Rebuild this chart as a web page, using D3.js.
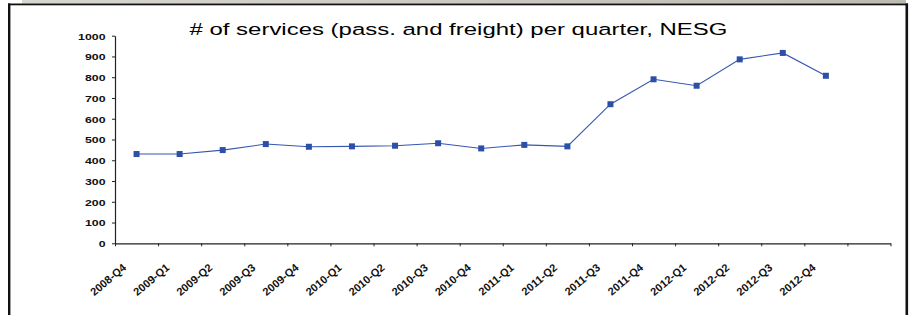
<!DOCTYPE html>
<html>
<head>
<meta charset="utf-8">
<style>
  body { margin: 0; background: #fff; }
  svg { display: block; }
  text { font-family: "Liberation Sans", Arial, sans-serif; }
</style>
</head>
<body>
<svg width="915" height="315"></svg>
<script src="https://cdn.jsdelivr.net/npm/d3@7"></script>
<script>

var quarters = ["2008-Q4", "2009-Q1", "2009-Q2", "2009-Q3", "2009-Q4", "2010-Q1", "2010-Q2",
    "2010-Q3", "2010-Q4", "2011-Q1", "2011-Q2", "2011-Q3", "2011-Q4", "2012-Q1", "2012-Q2",
    "2012-Q3", "2012-Q4"];
var services = [430, 430, 449, 478, 465, 467, 470, 482, 457, 474, 467, 670, 790, 759, 886, 917, 807];
var yTicks = [0, 100, 200, 300, 400, 500, 600, 700, 800, 900, 1000];
var nSlots = 18; // one empty category slot at the right end

var svg = d3.select("svg"),
    stretch = 1.3; // the picture is wider than tall, text looks stretched

// window frame
var grad = svg.append("defs").append("linearGradient").attr("id", "bar");
grad.append("stop").attr("offset", "0").attr("stop-color", "#d8d6d0");
grad.append("stop").attr("offset", "1").attr("stop-color", "#bdbab2");
svg.append("rect").attr("x", 22).attr("y", 0).attr("width", 884).attr("height", 3.5).attr("fill", "url(#bar)");
svg.append("rect").attr("x", 8).attr("y", 3.5).attr("width", 900).attr("height", 1.8).attr("fill", "#111");
svg.append("rect").attr("x", 8).attr("y", 3.5).attr("width", 2.4).attr("height", 312).attr("fill", "#111");
svg.append("rect").attr("x", 905.5).attr("y", 3.5).attr("width", 2.6).attr("height", 312).attr("fill", "#111");

var x = d3.scaleLinear().domain([0, nSlots]).range([115, 890.5]);
var y = d3.scaleLinear().domain([0, 1000]).range([243.3, 35.7]);

// title
svg.append("text")
    .attr("transform", "translate(189.5,34.5) scale(1.41,1)")
    .attr("font-size", 17)
    .attr("fill", "#000")
    .text("# of services (pass. and freight) per quarter, NESG");

// y axis
var yAxis = svg.append("g")
    .attr("transform", "translate(" + x(0) + ",0)")
    .call(d3.axisLeft(y).tickValues(yTicks).tickFormat(d3.format("d"))
      .tickSize(3).tickSizeOuter(0).tickPadding(0));
yAxis.select(".domain").attr("stroke", "#222").attr("stroke-width", 1.2);
yAxis.selectAll(".tick line").attr("stroke", "#222");
yAxis.selectAll(".tick text")
    .attr("x", null).attr("dy", "0.35em")
    .attr("transform", "translate(-9.5,0) scale(" + stretch + ",1)")
    .attr("font-size", 9.5)
    .attr("font-weight", "bold")
    .attr("font-family", "Liberation Sans, Arial, sans-serif")
    .attr("fill", "#111");

// x axis
var xAxis = svg.append("g")
    .attr("transform", "translate(0," + y(0) + ")")
    .call(d3.axisBottom(x).tickValues(d3.range(nSlots + 1)).tickFormat("").tickSize(3).tickSizeOuter(0));
xAxis.select(".domain").attr("stroke", "#222").attr("stroke-width", 1.2);
xAxis.selectAll(".tick line").attr("stroke", "#222");

svg.append("g").selectAll("text")
    .data(quarters)
    .join("text")
    .attr("transform", function(d, i) {
      return "translate(" + (x(i + 0.5) - 9.5) + "," + (y(0) + 25.5) + ") rotate(-40)";
    })
    .attr("text-anchor", "end")
    .attr("font-size", 11)
    .attr("font-weight", "bold")
    .attr("fill", "#111")
    .text(function(d) { return d; });

// series
var line = d3.line()
    .x(function(d, i) { return x(i + 0.5); })
    .y(function(d) { return y(d); });

svg.append("path")
    .datum(services)
    .attr("fill", "none")
    .attr("stroke", "#3656b0")
    .attr("stroke-width", 1.1)
    .attr("d", line);

svg.append("g").selectAll("rect")
    .data(services)
    .join("rect")
    .attr("x", function(d, i) { return x(i + 0.5) - 3; })
    .attr("y", function(d) { return y(d) - 3; })
    .attr("width", 6)
    .attr("height", 6)
    .attr("fill", "#2c4fa8");

</script>
</body>
</html>
